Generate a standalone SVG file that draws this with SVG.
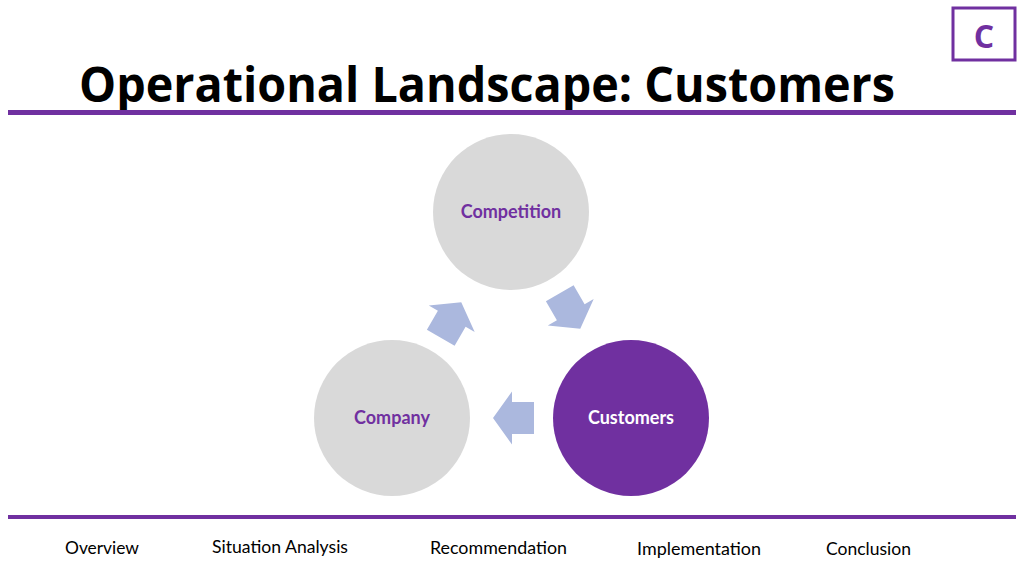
<svg xmlns="http://www.w3.org/2000/svg" width="1024" height="575" viewBox="0 0 1024 575">
<defs>
<style>
.title{font-family:"Open Sans","Liberation Sans",sans-serif;font-weight:bold;font-size:49px;fill:#000}
.node{font-family:Lato,"Liberation Sans",sans-serif;font-weight:bold;font-size:18px;text-anchor:middle}
.nav{font-family:Lato,"Liberation Sans",sans-serif;font-size:17px;fill:#000}
.arrow{fill:#abb8de}
</style>
<path id="arr" d="M -20.5,-16 L 1.5,-16 L 1.5,-26.5 L 20.5,0 L 1.5,26.5 L 1.5,16 L -20.5,16 Z"/>
</defs>
<rect width="1024" height="575" fill="#fff"/>
<g id="badge">
<rect x="953" y="8" width="62" height="52" fill="#fff" stroke="#7030a0" stroke-width="3"/>
<text x="984" y="48" font-family="'Open Sans','Liberation Sans',sans-serif" font-weight="bold" font-size="32" fill="#7030a0" text-anchor="middle">C</text>
</g>
<text class="title" x="79" y="102" textLength="816" lengthAdjust="spacingAndGlyphs">Operational Landscape: Customers</text>
<rect x="8" y="110" width="1008" height="5" fill="#7030a0"/>
<g id="connectors">
<use href="#arr" class="arrow" transform="translate(451,320) rotate(-60)"/>
<use href="#arr" class="arrow" transform="translate(570,311) rotate(60)"/>
<use href="#arr" class="arrow" transform="translate(513.5,418) rotate(180)"/>
</g>
<g id="competition">
<circle cx="511" cy="212" r="78" fill="#d9d9d9"/>
<text class="node" x="511" y="218" fill="#7030a0">Competition</text>
</g>
<g id="company">
<circle cx="392" cy="418" r="78" fill="#d9d9d9"/>
<text class="node" x="392" y="424" fill="#7030a0">Company</text>
</g>
<g id="customers">
<circle cx="631" cy="418" r="78" fill="#7030a0"/>
<text class="node" x="631" y="424" fill="#fff">Customers</text>
</g>
<rect x="8" y="515" width="1008" height="4" fill="#7030a0"/>
<g id="nav">
<text class="nav" x="65" y="554" textLength="74" lengthAdjust="spacingAndGlyphs">Overview</text>
<text class="nav" x="212" y="553" textLength="136" lengthAdjust="spacingAndGlyphs">Situation Analysis</text>
<text class="nav" x="430" y="554" textLength="137" lengthAdjust="spacingAndGlyphs">Recommendation</text>
<text class="nav" x="637" y="555" textLength="124" lengthAdjust="spacingAndGlyphs">Implementation</text>
<text class="nav" x="826" y="555" textLength="85" lengthAdjust="spacingAndGlyphs">Conclusion</text>
</g>
</svg>
